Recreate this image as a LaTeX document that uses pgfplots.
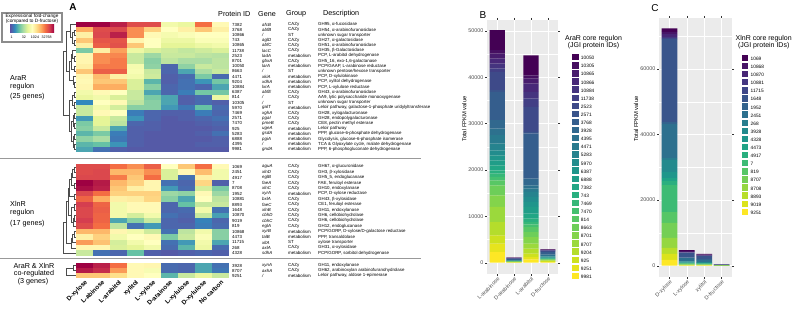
\documentclass[border=0pt]{standalone}
\usepackage{pgfplots}
\pgfplotsset{compat=1.18}
\usepackage{fontspec}
\setmainfont{Liberation Sans}

% diverging palette of the heatmap (low = purple, high = crimson)
\definecolor{sp0}{RGB}{94,79,162}
\definecolor{sp1}{RGB}{50,136,189}
\definecolor{sp2}{RGB}{102,194,165}
\definecolor{sp3}{RGB}{171,221,164}
\definecolor{sp4}{RGB}{230,245,152}
\definecolor{sp5}{RGB}{255,255,191}
\definecolor{sp6}{RGB}{254,224,139}
\definecolor{sp7}{RGB}{253,174,97}
\definecolor{sp8}{RGB}{244,109,67}
\definecolor{sp9}{RGB}{213,62,79}
\definecolor{sp10}{RGB}{158,1,66}
\definecolor{ggpanel}{RGB}{235,235,235}
\definecolor{ggtext}{RGB}{77,77,77}
\definecolor{ggtick}{RGB}{51,51,51}

\pgfdeclarehorizontalshading{spectralbar}{100bp}{color(0bp)=(sp0); color(25bp)=(sp0); color(30bp)=(sp1); color(35bp)=(sp2); color(40bp)=(sp3); color(45bp)=(sp4); color(50bp)=(sp5); color(55bp)=(sp6); color(60bp)=(sp7); color(65bp)=(sp8); color(70bp)=(sp9); color(75bp)=(sp10); color(100bp)=(sp10)}

% heatmap cells: one filled rectangle per (condition, gene) pair
\pgfdeclareplotmark{cellA}{\pgfpathrectangle{\pgfqpoint{-8.6pt}{-2.7pt}}{\pgfqpoint{17.2pt}{5.4pt}}\pgfusepathqfill}
\pgfdeclareplotmark{cellB}{\pgfpathrectangle{\pgfqpoint{-8.6pt}{-2.8pt}}{\pgfqpoint{17.2pt}{5.6pt}}\pgfusepathqfill}
\pgfdeclareplotmark{cellC}{\pgfpathrectangle{\pgfqpoint{-8.6pt}{-2.6pt}}{\pgfqpoint{17.2pt}{5.2pt}}\pgfusepathqfill}

\newcommand\fs[1]{\fontsize{#1}{#1}\selectfont}

\pgfplotsset{
  colormap/viridis,
  colormap={spectralrev}{rgb255=(94,79,162) rgb255=(50,136,189) rgb255=(102,194,165) rgb255=(171,221,164) rgb255=(230,245,152) rgb255=(255,255,191) rgb255=(254,224,139) rgb255=(253,174,97) rgb255=(244,109,67) rgb255=(213,62,79) rgb255=(158,1,66)},
  heat/.style={scale only axis, width=153pt, xmin=0.5, xmax=9.5, enlargelimits=false,
    colormap name=spectralrev, point meta min=0, point meta max=10,
    axis line style={draw=none}, xtick=\empty, ytick=\empty},
  heatcells/.style={scatter, only marks, mark=#1, point meta=explicit,
    scatter/use mapped color={draw=none, fill=mapped color}},
  fpkm/.style={scale only axis, ybar stacked, bar width=0.9,
    xmin=0.4, xmax=4.6, xtick={1,2,3,4},
    axis background/.style={fill=ggpanel},
    axis line style={draw=none},
    xmajorgrids, ymajorgrids, yminorgrids,
    major grid style={white, line width=0.55pt},
    minor grid style={white, line width=0.27pt},
    tick align=outside, major tick length=2pt, minor tick length=0pt,
    tick style={ggtick, line width=0.4pt},
    xticklabel style={rotate=45, anchor=north east, inner sep=0.5pt, font=\fs{5.4}, text=ggtext},
    yticklabel style={font=\fs{5.4}, text=ggtext, inner sep=1.5pt},
    /pgf/number format/1000 sep={}, /pgf/number format/assume math mode=true,
    scaled y ticks=false,
    ylabel={Total FPKM value},
    ylabel style={font=\fs{5.8}, anchor=center},
    reverse legend, legend cell align=left,
    legend style={anchor=north west, draw=none, fill=none, inner sep=0pt, outer sep=0pt,
      row sep=0pt, column sep=0pt, font=\fs{4.8},
      nodes={inner sep=0pt, outer sep=0pt, text height=4.6pt, text depth=2.4pt},
      /tikz/every odd column/.append style={column sep=2.4pt}},
    legend image code/.code={\fill[##1] (0pt,-1.8pt) rectangle (6.6pt,4.6pt);},
  },
}

\begin{document}
\begin{tikzpicture}[x=1pt, y=-1pt,
  dendro/.style={draw=black!70, line width=0.4pt},
  tab/.style={anchor=west, inner sep=0pt, font=\fs{4.4}},
  head/.style={anchor=west, inner sep=0pt, font=\fs{7.2}},
  grp/.style={anchor=west, inner sep=0pt, font=\fs{7.2}}]
\useasboundingbox (0,0) rectangle (793,313);

% ---------- colour key of the heatmap ----------
\draw[line width=1.2pt, black!45, fill=white] (2,13) rectangle (62,42);
\node[inner sep=0pt, font=\fs{4.7}] at (32,16.6) {Expressional fold-change};
\node[inner sep=0pt, font=\fs{4.7}] at (32,21.2) {(compared to D-fructose)};
\shade[shading=spectralbar] (10,25) rectangle (54,32.3);
\foreach \xx/\lab in {11.7/1, 24/32, 35/1024, 46.7/32768}
  \node[inner sep=0pt, font=\fs{3.6}] at (\xx,37.2) {\lab};

% ---------- panel letters ----------
\node[font=\bfseries\fs{10}, inner sep=0pt] at (73,7) {A};
\node[font=\fs{10}, inner sep=0pt] at (483,15) {B};
\node[font=\fs{10}, inner sep=0pt] at (655,8) {C};

% ---------- regulon labels ----------
\node[grp] at (10,78) {AraR};
\node[grp] at (10,86.5) {regulon};
\node[grp] at (10,97) {(25 genes)};
\node[grp] at (10,204) {XlnR};
\node[grp] at (10,212.5) {regulon};
\node[grp] at (10,224) {(17 genes)};
\node[inner sep=0pt, font=\fs{7.2}] at (34,266) {AraR \& XlnR};
\node[inner sep=0pt, font=\fs{7.2}] at (34,273.7) {co-regulated};
\node[inner sep=0pt, font=\fs{7.2}] at (33,282) {(3 genes)};

% separators between the gene groups
\draw[black!40, line width=1.3pt] (0,158.5) -- (421,158.5);
\draw[black!40, line width=1.3pt] (0,258.5) -- (421,258.5);

% ---------- heatmap, AraR regulon (log2 fold-change on a 0-10 colour scale) ----------
\begin{axis}[heat, at={(76pt,-152pt)}, anchor=south west, height=130pt, ymin=-25.5, ymax=-0.5]
\addplot[heatcells=cellA] coordinates {
(1,-1) [10] (2,-1) [10] (3,-1) [9.5] (4,-1) [8.7] (5,-1) [8.7] (6,-1) [4.5] (7,-1) [4.2] (8,-1) [8] (9,-1) [5.2]
(1,-2) [7] (2,-2) [8.7] (3,-2) [8.8] (4,-2) [7.5] (5,-2) [6.3] (6,-2) [5] (7,-2) [5.5] (8,-2) [6.5] (9,-2) [5.5]
(1,-3) [5.5] (2,-3) [8.8] (3,-3) [9.5] (4,-3) [7.5] (5,-3) [5.2] (6,-3) [4.6] (7,-3) [4.8] (8,-3) [5] (9,-3) [5]
(1,-4) [6.5] (2,-4) [8.5] (3,-4) [8.5] (4,-4) [5.3] (5,-4) [5] (6,-4) [4.3] (7,-4) [4.3] (8,-4) [4.8] (9,-4) [4.8]
(1,-5) [5.5] (2,-5) [8.3] (3,-5) [8.6] (4,-5) [6.5] (5,-5) [5] (6,-5) [4] (7,-5) [4] (8,-5) [4.3] (9,-5) [4.5]
(1,-6) [2.3] (2,-6) [5.5] (3,-6) [7.2] (4,-6) [4.3] (5,-6) [3.8] (6,-6) [3.6] (7,-6) [3.4] (8,-6) [3.6] (9,-6) [3.8]
(1,-7) [5.3] (2,-7) [7.5] (3,-7) [7.6] (4,-7) [3.5] (5,-7) [2.8] (6,-7) [3.5] (7,-7) [3.5] (8,-7) [3.3] (9,-7) [3.2]
(1,-8) [5.3] (2,-8) [7.5] (3,-8) [7.8] (4,-8) [3.5] (5,-8) [2.5] (6,-8) [3.3] (7,-8) [3] (8,-8) [3] (9,-8) [3.3]
(1,-9) [5.5] (2,-9) [7.8] (3,-9) [7.8] (4,-9) [4.6] (5,-9) [2.6] (6,-9) [0.4] (7,-9) [2.6] (8,-9) [3.5] (9,-9) [3.3]
(1,-10) [6.5] (2,-10) [8.3] (3,-10) [8.3] (4,-10) [4.7] (5,-10) [3.5] (6,-10) [0.4] (7,-10) [1.5] (8,-10) [3] (9,-10) [3.5]
(1,-11) [5.3] (2,-11) [6.7] (3,-11) [5.5] (4,-11) [4.5] (5,-11) [3.6] (6,-11) [0.3] (7,-11) [0.5] (8,-11) [2.3] (9,-11) [0.5]
(1,-12) [5.2] (2,-12) [6.5] (3,-12) [6.5] (4,-12) [3.8] (5,-12) [1.8] (6,-12) [0.3] (7,-12) [0.6] (8,-12) [1.2] (9,-12) [2.2]
(1,-13) [5.3] (2,-13) [7] (3,-13) [7] (4,-13) [3.8] (5,-13) [2.5] (6,-13) [0.4] (7,-13) [0.6] (8,-13) [0.4] (9,-13) [1.5]
(1,-14) [4.5] (2,-14) [5.2] (3,-14) [5] (4,-14) [3.5] (5,-14) [1.5] (6,-14) [0.4] (7,-14) [0.8] (8,-14) [2.2] (9,-14) [2.2]
(1,-15) [4.2] (2,-15) [4.5] (3,-15) [3.8] (4,-15) [3.5] (5,-15) [2.3] (6,-15) [1.5] (7,-15) [0.3] (8,-15) [0.5] (9,-15) [4.3]
(1,-16) [1] (2,-16) [5] (3,-16) [5.2] (4,-16) [3.3] (5,-16) [2.5] (6,-16) [1.5] (7,-16) [0.3] (8,-16) [0.5] (9,-16) [0.3]
(1,-17) [3.5] (2,-17) [4.5] (3,-17) [3.7] (4,-17) [2.5] (5,-17) [2.5] (6,-17) [1.3] (7,-17) [0.7] (8,-17) [2] (9,-17) [0.5]
(1,-18) [3.5] (2,-18) [5.2] (3,-18) [5] (4,-18) [0.8] (5,-18) [0.4] (6,-18) [0.3] (7,-18) [0.3] (8,-18) [0.8] (9,-18) [0.4]
(1,-19) [1.3] (2,-19) [4] (3,-19) [3.5] (4,-19) [1.2] (5,-19) [0.4] (6,-19) [0.2] (7,-19) [0.3] (8,-19) [0.4] (9,-19) [0.6]
(1,-20) [2.3] (2,-20) [4] (3,-20) [3.3] (4,-20) [0.4] (5,-20) [0.3] (6,-20) [0.2] (7,-20) [0.2] (8,-20) [0.3] (9,-20) [0.4]
(1,-21) [2.5] (2,-21) [3.5] (3,-21) [1.5] (4,-21) [0.3] (5,-21) [0.3] (6,-21) [0.2] (7,-21) [0.2] (8,-21) [0.2] (9,-21) [0.3]
(1,-22) [1.8] (2,-22) [2.3] (3,-22) [0.8] (4,-22) [0.3] (5,-22) [0.2] (6,-22) [0.2] (7,-22) [0.2] (8,-22) [0.3] (9,-22) [0.6]
(1,-23) [2.6] (2,-23) [3] (3,-23) [0.7] (4,-23) [0.3] (5,-23) [0.2] (6,-23) [0.2] (7,-23) [0.2] (8,-23) [0.2] (9,-23) [0.3]
(1,-24) [1.8] (2,-24) [2] (3,-24) [1.2] (4,-24) [0.3] (5,-24) [0.2] (6,-24) [0.2] (7,-24) [0.2] (8,-24) [0.3] (9,-24) [0.3]
(1,-25) [1.5] (2,-25) [0.6] (3,-25) [0.3] (4,-25) [0.2] (5,-25) [0.2] (6,-25) [0.2] (7,-25) [0.2] (8,-25) [0.2] (9,-25) [0.2]
};
\end{axis}

% ---------- heatmap, XlnR regulon ----------
\begin{axis}[heat, at={(76pt,-256pt)}, anchor=south west, height=92pt, ymin=-17.5, ymax=-0.5]
\addplot[heatcells=cellB] coordinates {
(1,-1) [8.7] (2,-1) [8.7] (3,-1) [8] (4,-1) [7.5] (5,-1) [8.3] (6,-1) [5] (7,-1) [6.5] (8,-1) [8] (9,-1) [5.2]
(1,-2) [8.7] (2,-2) [8.8] (3,-2) [6.8] (4,-2) [6.8] (5,-2) [7.5] (6,-2) [3.8] (7,-2) [5.2] (8,-2) [6.7] (9,-2) [4.5]
(1,-3) [8.8] (2,-3) [8.8] (3,-3) [7.8] (4,-3) [6.5] (5,-3) [8] (6,-3) [3.8] (7,-3) [0.6] (8,-3) [5.5] (9,-3) [4.5]
(1,-4) [10] (2,-4) [9.6] (3,-4) [6.8] (4,-4) [6.3] (5,-4) [5.3] (6,-4) [0.6] (7,-4) [0.4] (8,-4) [6.2] (9,-4) [0.3]
(1,-5) [9.8] (2,-5) [9.5] (3,-5) [6.5] (4,-5) [5.5] (5,-5) [5.3] (6,-5) [1.3] (7,-5) [0.5] (8,-5) [3.7] (9,-5) [2.3]
(1,-6) [8.8] (2,-6) [8] (3,-6) [6.3] (4,-6) [6.3] (5,-6) [6.3] (6,-6) [2.8] (7,-6) [2.6] (8,-6) [5.2] (9,-6) [2.8]
(1,-7) [8.2] (2,-7) [7] (3,-7) [5.5] (4,-7) [5.6] (5,-7) [6.2] (6,-7) [2.5] (7,-7) [1.5] (8,-7) [5] (9,-7) [3.3]
(1,-8) [9] (2,-8) [8.2] (3,-8) [4.5] (4,-8) [5.2] (5,-8) [5.2] (6,-8) [0.4] (7,-8) [2] (8,-8) [3.5] (9,-8) [3.5]
(1,-9) [8.8] (2,-9) [8.3] (3,-9) [4.5] (4,-9) [5.2] (5,-9) [5.2] (6,-9) [0.4] (7,-9) [0.5] (8,-9) [4.5] (9,-9) [0.6]
(1,-10) [8.8] (2,-10) [8.2] (3,-10) [4.5] (4,-10) [3.7] (5,-10) [4.5] (6,-10) [0.6] (7,-10) [0.4] (8,-10) [3.5] (9,-10) [1.4]
(1,-11) [9] (2,-11) [8.2] (3,-11) [1.5] (4,-11) [2.5] (5,-11) [3.5] (6,-11) [0.4] (7,-11) [0.3] (8,-11) [0.9] (9,-11) [0.4]
(1,-12) [8.7] (2,-12) [8] (3,-12) [3.3] (4,-12) [0.6] (5,-12) [1.3] (6,-12) [0.4] (7,-12) [0.4] (8,-12) [0.8] (9,-12) [0.5]
(1,-13) [6.8] (2,-13) [6.8] (3,-13) [5.3] (4,-13) [4.5] (5,-13) [3.6] (6,-13) [0.6] (7,-13) [3.3] (8,-13) [4.5] (9,-13) [2.5]
(1,-14) [5.5] (2,-14) [6.3] (3,-14) [4.5] (4,-14) [5] (5,-14) [5.2] (6,-14) [2.3] (7,-14) [3.5] (8,-14) [4.8] (9,-14) [2.5]
(1,-15) [7.3] (2,-15) [6.6] (3,-15) [3.7] (4,-15) [4.5] (5,-15) [5] (6,-15) [0.6] (7,-15) [1.3] (8,-15) [4.5] (9,-15) [1.5]
(1,-16) [5.3] (2,-16) [5.3] (3,-16) [3.8] (4,-16) [4] (5,-16) [4.5] (6,-16) [0.5] (7,-16) [1.8] (8,-16) [4.3] (9,-16) [0.5]
(1,-17) [3.5] (2,-17) [0.6] (3,-17) [0.4] (4,-17) [2] (5,-17) [0.3] (6,-17) [0.2] (7,-17) [0.3] (8,-17) [0.4] (9,-17) [0.3]
};
\end{axis}

% ---------- heatmap, co-regulated genes, with the condition names ----------
\begin{axis}[heat, at={(76pt,-278pt)}, anchor=south west, height=15pt, ymin=-3.5, ymax=-0.5,
  xtick={1,...,9}, major tick length=0pt,
  xticklabels={D-xylose,L-abinose,L-arabitol,xylitol,L-xylose,D-arainose,L-xylulose,D-xylulose,No carbon},
  xticklabel style={rotate=45, anchor=north east, inner sep=1pt, font=\bfseries\fs{6.3}}]
\addplot[heatcells=cellC] coordinates {
(1,-1) [10] (2,-1) [9.5] (3,-1) [8] (4,-1) [5.2] (5,-1) [5.3] (6,-1) [0.5] (7,-1) [0.4] (8,-1) [1.5] (9,-1) [0.6]
(1,-2) [9.6] (2,-2) [9.3] (3,-2) [7.3] (4,-2) [5.2] (5,-2) [4.7] (6,-2) [0.5] (7,-2) [0.4] (8,-2) [1.5] (9,-2) [0.7]
(1,-3) [6.5] (2,-3) [6.5] (3,-3) [6] (4,-3) [5.2] (5,-3) [5] (6,-3) [1.8] (7,-3) [3.5] (8,-3) [4.2] (9,-3) [3.5]
};
\end{axis}

% ---------- row dendrograms ----------
\newcommand\dm[5]{\draw[dendro] (#1,#2) -- (#5,#2) -- (#5,#4) -- (#3,#4);}
% AraR
\dm{76}{29.8}{76}{35.0}{74}
\dm{76}{40.2}{76}{45.4}{74}
\dm{74}{32.4}{74}{42.8}{72}
\dm{76}{24.6}{72}{37.6}{70}
\dm{76}{55.8}{76}{61.0}{74}
\dm{76}{50.6}{74}{58.4}{72}
\dm{76}{66.2}{76}{71.4}{74}
\dm{72}{54.5}{74}{68.8}{71}
\dm{76}{81.8}{76}{87.0}{74.5}
\dm{76}{76.6}{74.5}{84.4}{73}
\dm{71}{61.65}{73}{80.5}{69}
\dm{70}{31.1}{69}{71.1}{66}
\dm{76}{92.2}{76}{97.4}{74}
\dm{76}{102.6}{76}{107.8}{74}
\dm{74}{94.8}{74}{105.2}{72}
\dm{76}{113.0}{76}{118.2}{74.5}
\dm{76}{123.4}{76}{128.6}{74.5}
\dm{74.5}{115.6}{74.5}{126}{73}
\dm{76}{133.8}{76}{139.0}{74.5}
\dm{76}{144.2}{76}{149.4}{74.5}
\dm{74.5}{136.4}{74.5}{146.8}{73}
\dm{73}{120.8}{73}{141.6}{71}
\dm{72}{100}{71}{131.2}{69}
\dm{66}{51.1}{69}{115.6}{63}
% XlnR
\dm{76}{166.7}{76}{172.1}{74}
\dm{74}{169.4}{76}{177.5}{72.5}
\dm{76}{182.9}{76}{188.4}{74}
\dm{72.5}{173.45}{74}{185.65}{71}
\dm{76}{193.8}{76}{199.2}{74}
\dm{71}{179.55}{74}{196.5}{69.5}
\dm{76}{204.6}{76}{210.0}{74.5}
\dm{76}{215.4}{76}{220.8}{74.5}
\dm{74.5}{218.1}{76}{226.2}{73}
\dm{74.5}{207.3}{73}{222.15}{71.5}
\dm{69.5}{188}{71.5}{214.7}{68}
\dm{76}{231.6}{76}{237.0}{74}
\dm{74}{234.3}{76}{242.5}{72.5}
\dm{72.5}{238.4}{76}{247.9}{71}
\dm{68}{201.35}{71}{243.15}{66}
\dm{66}{222.25}{76}{253.3}{63.5}
% co-regulated
\dm{76}{265.5}{76}{270.5}{73}
\dm{73}{268}{76}{275.5}{66}

% ---------- gene table ----------
\node[head] at (218,14) {Protein ID};
\node[head] at (258,14) {Gene};
\node[head] at (286,14) {Group};
\node[head] at (323,14) {Description};

\foreach \k/\pid/\gene/\grpname/\desc in {
 1/7382/afcB/CAZy/{GH95, α-fucosidase},
 2/3768/abfB/CAZy/{GH54, α-arabinofuranosidase},
 3/10866/{/}/ST/{unknown sugar transporter},
 4/743/aglD/CAZy/{GH27, α-galactosidase},
 5/10865/abfC/CAZy/{GH51, α-arabinofuranosidase},
 6/11738/lacC/CAZy/{GH35, β-Galactosidase},
 7/2523/ladA/metabolism/{PCP, L-arabitol dehydrogenase},
 8/8701/gbxA/CAZy/{GH5\_16, exo-1,6-galactanase},
 9/10050/larA/metabolism/{PCP/GAAP, L-arabinose reductase},
 10/8663/{/}/ST/{unknown pentose/hexose transporter},
 11/4471/xkiA/metabolism/{PCP, D-xylulokinase},
 12/9204/xdhA/metabolism/{PCP, xylitol dehydrogenase},
 13/10884/lxrA/metabolism/{PCP, L-xylulose reductase},
 14/6387/abfE/CAZy/{GH43, α-arabinofuranosidase},
 15/814/{/}/CAZy/{AA9, lytic polysaccharide monooxygenase},
 16/10305/{/}/ST/{unknown sugar transporter},
 17/5970/galT/metabolism/{Leloir pathway, galactose-1-phosphate uridylyltransferase},
 18/7469/xghA/CAZy/{GH28, xylogalacturonase},
 19/2571/pgaI/CAZy/{GH28, endopolygalacturonase},
 20/7470/pmeB/CAZy/{CE8, pectin methyl esterase},
 21/925/ugeA/metabolism/{Leloir pathway},
 22/5283/gsdA/metabolism/{PPP, glucose-6-phosphate dehydrogenase},
 23/6888/pgiA/metabolism/{Glycolysis, glucose-6-phosphate isomerase},
 24/4395/{/}/metabolism/{TCA \& Glyoxylate cycle, malate dehydrogenase},
 25/9981/gndA/metabolism/{PPP, 6-phosphogluconate dehydrogenase}}{
  \pgfmathsetmacro\yy{19.4+5.2*\k}
  \node[tab] at (232,\yy) {\pid};
  \node[tab] at (262,\yy) {\itshape\gene};
  \node[tab] at (288,\yy) {\grpname};
  \node[tab] at (318,\yy) {\desc};
}

\foreach \k/\pid/\gene/\grpname/\desc in {
 1/1069/aguA/CAZy/{GH67, α-glucuronidase},
 2/2451/xlnD/CAZy/{GH3, β-xylosidase},
 3/4917/eglB/CAZy/{GH5\_5, endoglucanase},
 4/7/faeA/CAZy/{FAE, feruloyl esterase},
 5/8708/xlnC/CAZy/{GH10, endoxylanase},
 6/1952/xyrA/metabolism/{PCP, D-xylose reductase},
 7/10881/bxlA/CAZy/{GH43, β-xylosidase},
 8/8893/faeC/CAZy/{CE1, feruloyl esterase},
 9/1648/xlnB/CAZy/{GH11, endoxylanase},
 10/10870/cbhD/CAZy/{GH6, cellobiohydrolase},
 11/9019/cbhC/CAZy/{GH6, cellobiohydrolase},
 12/819/eglA/CAZy/{GH12, endoglucanase},
 13/10868/xyrB/metabolism/{PCP/GORP, D-xylose/D-galactose reductase},
 14/4473/talB/metabolism/{PPP, transaldolase},
 15/11715/xltA/ST/{xylose transporter},
 16/268/axlA/CAZy/{GH31, α-xylosidase},
 17/4328/sdhA/metabolism/{PCP/GORP, sorbitol dehydrogenase}}{
  \pgfmathsetmacro\yy{161.3+5.41*\k}
  \node[tab] at (232,\yy) {\pid};
  \node[tab] at (262,\yy) {\itshape\gene};
  \node[tab] at (288,\yy) {\grpname};
  \node[tab] at (318,\yy) {\desc};
}

\foreach \k/\pid/\gene/\grpname/\desc in {
 1/3928/xynA/CAZy/{GH11, endoxylanase},
 2/8707/axhA/CAZy/{GH62, arabinoxylan arabinofuranohydrolase},
 3/9251/{/}/metabolism/{Leloir pathway, aldose 1-epimerase}}{
  \pgfmathsetmacro\yy{260.5+5*\k}
  \node[tab] at (232,\yy) {\pid};
  \node[tab] at (262,\yy) {\itshape\gene};
  \node[tab] at (288,\yy) {\grpname};
  \node[tab] at (318,\yy) {\desc};
}

% ---------- B: AraR core regulon, total FPKM per carbon source ----------
\node[inner sep=0pt, font=\fs{7}] at (593.5,38.3) {AraR core regulon};
\node[inner sep=0pt, font=\fs{7}] at (593.5,45.2) {(JGI protein IDs)};
\begin{axis}[fpkm, at={(487pt,-274pt)}, anchor=south west, width=71pt, height=254pt,
  ymin=-2438, ymax=52363, ytick={0,10000,20000,30000,40000,50000},
  minor ytick={5000,15000,25000,35000,45000},
  xticklabels={L-arabinose,D-arabinose,L-arabitol,D-fructose},
  ylabel style={at={(axis description cs:-0.32,0.61)}},
  legend style={at={(axis description cs:1.197,0.866)}}]
% order of stacking: bottom (9981) to top (10050)
\addplot[color of colormap={1000 of viridis}, fill=., draw=none] coordinates {(1,2300) (2,30) (3,720) (4,100)};
\addlegendentry{9981}
\addplot[color of colormap={963 of viridis}, fill=., draw=none] coordinates {(1,1800) (2,30) (3,500) (4,100)};
\addlegendentry{9251}
\addplot[color of colormap={926 of viridis}, fill=., draw=none] coordinates {(1,1800) (2,30) (3,720) (4,150)};
\addlegendentry{925}
\addplot[color of colormap={889 of viridis}, fill=., draw=none] coordinates {(1,2880) (2,40) (3,1080) (4,100)};
\addlegendentry{9204}
\addplot[color of colormap={852 of viridis}, fill=., draw=none] coordinates {(1,3240) (2,40) (3,1080) (4,100)};
\addlegendentry{8707}
\addplot[color of colormap={815 of viridis}, fill=., draw=none] coordinates {(1,2520) (2,40) (3,1440) (4,80)};
\addlegendentry{8701}
\addplot[color of colormap={778 of viridis}, fill=., draw=none] coordinates {(1,2160) (2,30) (3,1080) (4,60)};
\addlegendentry{8663}
\addplot[color of colormap={741 of viridis}, fill=., draw=none] coordinates {(1,1080) (2,30) (3,1080) (4,60)};
\addlegendentry{814}
\addplot[color of colormap={704 of viridis}, fill=., draw=none] coordinates {(1,720) (2,10) (3,580) (4,30)};
\addlegendentry{7470}
\addplot[color of colormap={667 of viridis}, fill=., draw=none] coordinates {(1,720) (2,10) (3,500) (4,30)};
\addlegendentry{7469}
\addplot[color of colormap={630 of viridis}, fill=., draw=none] coordinates {(1,720) (2,20) (3,720) (4,40)};
\addlegendentry{743}
\addplot[color of colormap={593 of viridis}, fill=., draw=none] coordinates {(1,1080) (2,20) (3,1080) (4,60)};
\addlegendentry{7382}
\addplot[color of colormap={556 of viridis}, fill=., draw=none] coordinates {(1,1080) (2,30) (3,1440) (4,150)};
\addlegendentry{6888}
\addplot[color of colormap={519 of viridis}, fill=., draw=none] coordinates {(1,1080) (2,20) (3,1080) (4,60)};
\addlegendentry{6387}
\addplot[color of colormap={481 of viridis}, fill=., draw=none] coordinates {(1,1080) (2,20) (3,1080) (4,80)};
\addlegendentry{5970}
\addplot[color of colormap={444 of viridis}, fill=., draw=none] coordinates {(1,1440) (2,30) (3,1080) (4,150)};
\addlegendentry{5283}
\addplot[color of colormap={407 of viridis}, fill=., draw=none] coordinates {(1,1800) (2,30) (3,720) (4,120)};
\addlegendentry{4471}
\addplot[color of colormap={370 of viridis}, fill=., draw=none] coordinates {(1,1440) (2,40) (3,720) (4,200)};
\addlegendentry{4395}
\addplot[color of colormap={333 of viridis}, fill=., draw=none] coordinates {(1,1800) (2,60) (3,1440) (4,150)};
\addlegendentry{3928}
\addplot[color of colormap={296 of viridis}, fill=., draw=none] coordinates {(1,6110) (2,200) (3,9710) (4,500)};
\addlegendentry{3768}
\addplot[color of colormap={259 of viridis}, fill=., draw=none] coordinates {(1,360) (2,10) (3,360) (4,20)};
\addlegendentry{2571}
\addplot[color of colormap={222 of viridis}, fill=., draw=none] coordinates {(1,3960) (2,150) (3,5390) (4,200)};
\addlegendentry{2523}
\addplot[color of colormap={185 of viridis}, fill=., draw=none] coordinates {(1,720) (2,40) (3,1800) (4,80)};
\addlegendentry{11738}
\addplot[color of colormap={148 of viridis}, fill=., draw=none] coordinates {(1,1080) (2,30) (3,1440) (4,60)};
\addlegendentry{10884}
\addplot[color of colormap={111 of viridis}, fill=., draw=none] coordinates {(1,1080) (2,20) (3,1800) (4,40)};
\addlegendentry{10866}
\addplot[color of colormap={74 of viridis}, fill=., draw=none] coordinates {(1,1080) (2,20) (3,1080) (4,40)};
\addlegendentry{10865}
\addplot[color of colormap={37 of viridis}, fill=., draw=none] coordinates {(1,720) (2,20) (3,720) (4,30)};
\addlegendentry{10305}
\addplot[color of colormap={0 of viridis}, fill=., draw=none] coordinates {(1,4310) (2,50) (3,4310) (4,100)};
\addlegendentry{10050}
\end{axis}

% ---------- C: XlnR core regulon, total FPKM per carbon source ----------
\node[inner sep=0pt, font=\fs{7}] at (763.7,38.3) {XlnR core regulon};
\node[inner sep=0pt, font=\fs{7}] at (763.7,45.2) {(JGI protein IDs)};
\begin{axis}[fpkm, at={(659pt,-277pt)}, anchor=south west, width=73pt, height=259pt,
  ymin=-3445, ymax=75518, ytick={0,20000,40000,60000},
  minor ytick={10000,30000,50000,70000},
  xticklabels={D-xylose,L-xylose,xylitol,D-fructose},
  ylabel style={at={(axis description cs:-0.315,0.61)}},
  legend style={at={(axis description cs:1.133,0.858)}}]
\addplot[color of colormap={1000 of viridis}, fill=., draw=none] coordinates {(1,1740) (2,100) (3,100) (4,20)};
\addlegendentry{9251}
\addplot[color of colormap={947 of viridis}, fill=., draw=none] coordinates {(1,1830) (2,50) (3,40) (4,10)};
\addlegendentry{9019}
\addplot[color of colormap={895 of viridis}, fill=., draw=none] coordinates {(1,1830) (2,50) (3,60) (4,10)};
\addlegendentry{8893}
\addplot[color of colormap={842 of viridis}, fill=., draw=none] coordinates {(1,3050) (2,100) (3,80) (4,10)};
\addlegendentry{8708}
\addplot[color of colormap={789 of viridis}, fill=., draw=none] coordinates {(1,4570) (2,150) (3,120) (4,10)};
\addlegendentry{8707}
\addplot[color of colormap={737 of viridis}, fill=., draw=none] coordinates {(1,3350) (2,100) (3,80) (4,10)};
\addlegendentry{819}
\addplot[color of colormap={684 of viridis}, fill=., draw=none] coordinates {(1,8230) (2,150) (3,100) (4,10)};
\addlegendentry{7}
\addplot[color of colormap={632 of viridis}, fill=., draw=none] coordinates {(1,1220) (2,100) (3,80) (4,20)};
\addlegendentry{4917}
\addplot[color of colormap={579 of viridis}, fill=., draw=none] coordinates {(1,900) (2,100) (3,100) (4,20)};
\addlegendentry{4473}
\addplot[color of colormap={526 of viridis}, fill=., draw=none] coordinates {(1,1830) (2,100) (3,100) (4,30)};
\addlegendentry{4328}
\addplot[color of colormap={474 of viridis}, fill=., draw=none] coordinates {(1,3660) (2,300) (3,200) (4,20)};
\addlegendentry{3928}
\addplot[color of colormap={421 of viridis}, fill=., draw=none] coordinates {(1,600) (2,100) (3,50) (4,10)};
\addlegendentry{268}
\addplot[color of colormap={368 of viridis}, fill=., draw=none] coordinates {(1,10370) (2,900) (3,600) (4,40)};
\addlegendentry{2451}
\addplot[color of colormap={316 of viridis}, fill=., draw=none] coordinates {(1,600) (2,200) (3,300) (4,20)};
\addlegendentry{1952}
\addplot[color of colormap={263 of viridis}, fill=., draw=none] coordinates {(1,25300) (2,1300) (3,900) (4,30)};
\addlegendentry{1648}
\addplot[color of colormap={211 of viridis}, fill=., draw=none] coordinates {(1,300) (2,150) (3,100) (4,10)};
\addlegendentry{11715}
\addplot[color of colormap={158 of viridis}, fill=., draw=none] coordinates {(1,400) (2,150) (3,100) (4,10)};
\addlegendentry{10881}
\addplot[color of colormap={105 of viridis}, fill=., draw=none] coordinates {(1,820) (2,150) (3,100) (4,10)};
\addlegendentry{10870}
\addplot[color of colormap={53 of viridis}, fill=., draw=none] coordinates {(1,700) (2,200) (3,150) (4,10)};
\addlegendentry{10868}
\addplot[color of colormap={0 of viridis}, fill=., draw=none] coordinates {(1,1040) (2,300) (3,250) (4,10)};
\addlegendentry{1069}
\end{axis}
\end{tikzpicture}
\end{document}
